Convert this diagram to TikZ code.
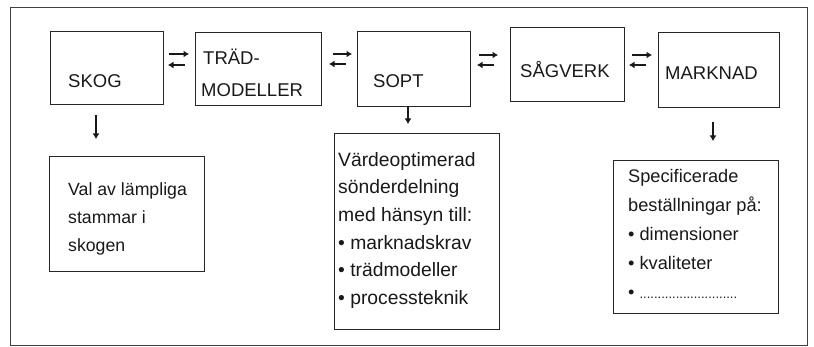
\documentclass[tikz,border=0pt]{standalone}
\usepackage{fontspec}
\setmainfont{Liberation Sans}
\usetikzlibrary{arrows.meta}
\begin{document}
\begin{tikzpicture}[x=1pt,y=-1pt,
  frm/.style={draw=black!75, line width=0.8pt, inner sep=0pt, anchor=north west},
  box/.style={draw=black!85, line width=0.9pt, inner sep=0pt, anchor=north west},
  lbl/.style={anchor=base west, inner sep=0pt, font=\fontsize{17.7}{21}\selectfont, text=black!90},
  toplbl/.style={lbl, font=\fontsize{18.5}{22}\selectfont},
  wlbl/.style={lbl, font=\fontsize{19.3}{23}\selectfont},
  slbl/.style={lbl, font=\fontsize{18.2}{22}\selectfont},
  arr/.style={line width=1.8pt, draw=black!90, -{Latex[length=5.5pt,width=7pt]}}]
\useasboundingbox (0,0) rectangle (814,347);
\fill[white] (0,0) rectangle (814,347);
% frame
\node[frm, minimum width=797pt, minimum height=338pt] (frame) at (10,7) {};
% top boxes
\node[box, minimum width=113pt, minimum height=73pt] (skog) at (50,31) {};
\node[box, minimum width=126pt, minimum height=73pt] (trad) at (195,32) {};
\node[box, minimum width=113pt, minimum height=75pt] (sopt) at (357,31) {};
\node[box, minimum width=114pt, minimum height=74pt] (sag) at (510,27) {};
\node[box, minimum width=121pt, minimum height=75pt] (mark) at (658,32) {};
% bottom boxes
\node[box, minimum width=155pt, minimum height=115pt] (val) at (49,156) {};
\node[box, minimum width=165pt, minimum height=196pt] (varde) at (334,133) {};
\node[box, minimum width=165pt, minimum height=153pt] (spec) at (613,160) {};
% top labels
\node[toplbl] (tskog) at (68,88) {SKOG};
\node[toplbl] (ttrad1) at (203,65) {TRÄD-};
\node[toplbl] (ttrad2) at (201,97) {MODELLER};
\node[toplbl] (tsopt) at (373,88) {SOPT};
\node[toplbl] (tsag) at (520,78) {SÅGVERK};
\node[toplbl] (tmark) at (665,80) {MARKNAD};
% val text
\node[lbl] (v1) at (68,196) {Val av lämpliga};
\node[lbl] (v2) at (68,224) {stammar i};
\node[lbl] (v3) at (68,252) {skogen};
% varde text
\node[wlbl] (w1) at (338,167) {Värdeoptimerad};
\node[wlbl] (w2) at (338,194) {sönderdelning};
\node[wlbl] (w3) at (338,222) {med hänsyn till:};
\node[wlbl] (w4) at (338,250) {• marknadskrav};
\node[wlbl] (w5) at (338,277) {• trädmodeller};
\node[wlbl] (w6) at (338,305) {• processteknik};
% spec text
\node[slbl] (s1) at (628,183) {Specificerade};
\node[slbl] (s2) at (628,212) {beställningar på:};
\node[slbl] (s3) at (628,241) {• dimensioner};
\node[slbl] (s4) at (628,270) {• kvaliteter};
\node[slbl] (s5) at (628,299) {• {\fontsize{13}{15}\selectfont ...........................}};
% horizontal arrow pairs
\coordinate (a1s) at (169,54); \coordinate (a1e) at (189,54);
\coordinate (b1s) at (185,65); \coordinate (b1e) at (168,65);
\coordinate (a2s) at (333,54); \coordinate (a2e) at (352,54);
\coordinate (b2s) at (346,64); \coordinate (b2e) at (329,64);
\coordinate (a3s) at (479,55); \coordinate (a3e) at (498,55);
\coordinate (b3s) at (494,65); \coordinate (b3e) at (477,65);
\coordinate (a4s) at (632,55); \coordinate (a4e) at (652,55);
\coordinate (b4s) at (646,65); \coordinate (b4e) at (629,65);
\foreach \i in {1,2,3,4} {
  \draw[arr] (a\i s) -- (a\i e);
  \draw[arr] (b\i s) -- (b\i e);
}
% down arrows
\coordinate (d1s) at (96,115); \coordinate (d1e) at (96,139);
\coordinate (d2s) at (408,106); \coordinate (d2e) at (408,124);
\coordinate (d3s) at (713,122); \coordinate (d3e) at (713,141);
\draw[arr] (d1s) -- (d1e);
\draw[arr] (d2s) -- (d2e);
\draw[arr] (d3s) -- (d3e);
\end{tikzpicture}
\end{document}
